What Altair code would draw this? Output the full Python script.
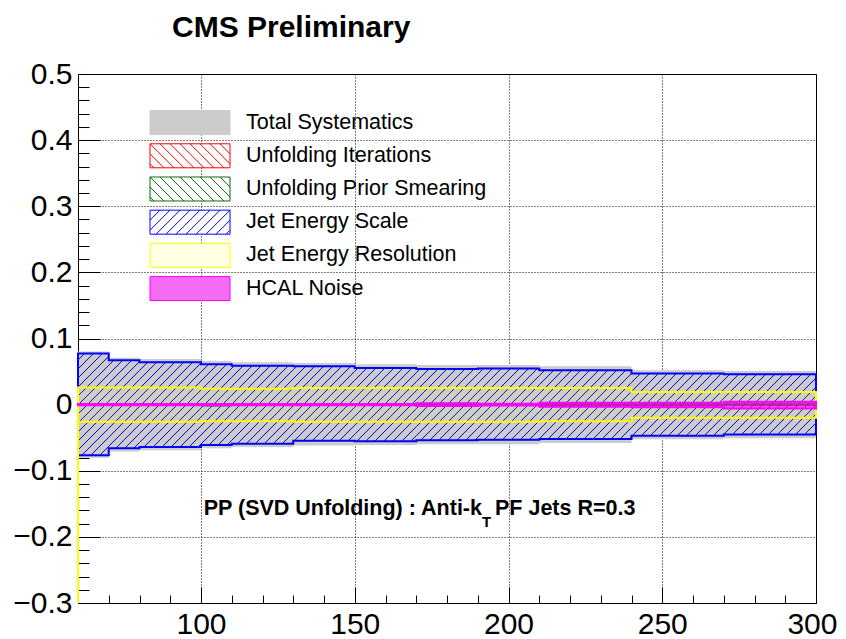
import math
import altair as alt
import pandas as pd
import numpy as np

# ---------------- data ----------------
bin_edges = [60, 70, 80, 100, 110, 130, 150, 170, 190, 210, 240, 270, 300]

total_up   = [0.0805, 0.071, 0.069, 0.066, 0.064, 0.063, 0.061, 0.060, 0.060, 0.058, 0.052, 0.051]
total_down = [-0.0805, -0.071, -0.069, -0.066, -0.064, -0.062, -0.061, -0.060, -0.060, -0.058, -0.0525, -0.051]

iter_up    = [0.0005, 0.0005, 0.0005, 0.0005, 0.0005, 0.0005, 0.0005, 0.0005, 0.0005, 0.001, 0.001, 0.001]
iter_down  = [-0.0005, -0.0005, -0.0005, -0.0005, -0.0005, -0.0005, -0.0005, -0.0005, -0.0005, -0.001, -0.001, -0.001]

prior_up   = [0.0005, 0.0005, 0.0005, 0.0005, 0.0005, 0.0005, 0.0005, 0.0005, 0.0005, 0.0005, 0.001, 0.001]
prior_down = [-0.0005, -0.0005, -0.0005, -0.002, -0.0005, -0.0005, -0.0005, -0.0005, -0.0005, -0.0005, -0.001, -0.001]

jes_up     = [0.0775, 0.067, 0.064, 0.061, 0.0587, 0.058, 0.0555, 0.054, 0.0545, 0.052, 0.047, 0.046]
jes_down   = [-0.0765, -0.066, -0.064, -0.061, -0.059, -0.0547, -0.0555, -0.0537, -0.053, -0.052, -0.047, -0.045]

jer_up     = [0.026, 0.026, 0.026, 0.024, 0.024, 0.025, 0.025, 0.025, 0.025, 0.025, 0.019, 0.019]
jer_down   = [-0.026, -0.026, -0.026, -0.025, -0.025, -0.026, -0.026, -0.026, -0.026, -0.025, -0.020, -0.020]

hcal_up    = [0.001, 0.001, 0.001, 0.001, 0.001, 0.001, 0.001, 0.002, 0.0015, 0.0027, 0.003, 0.0045]
hcal_down  = [-0.001, -0.001, -0.001, -0.001, -0.001, -0.001, -0.001, -0.002, -0.0015, -0.0033, -0.004, -0.006]

legend_labels = ["Total Systematics", "Unfolding Iterations", "Unfolding Prior Smearing",
                 "Jet Energy Scale", "Jet Energy Resolution", "HCAL Noise"]
legend_fills   = ["#cccccc", "#ffffff", "#ffffff", "#ffffff", "#ffffe4", "#f46cf4"]
legend_strokes = ["#cccccc", "#ff0000", "#0a6e0a", "#0000ff", "#ffff00", "#ff00ff"]
legend_hatch   = ["", "\\", "\\", "/", "", ""]

x_label_values = [100, 150, 200, 250, 300]
x_major_ticks = [100, 150, 200, 250]
x_minor_ticks = [70, 80, 90, 110, 120, 130, 140, 160, 170, 180, 190, 210, 220, 230, 240, 260, 270, 280, 290]
y_label_values = [-0.3, -0.2, -0.1, 0.0, 0.1, 0.2, 0.3, 0.4, 0.5]
y_major_ticks = [-0.2, -0.1, 0.0, 0.1, 0.2, 0.3, 0.4]
y_minor_ticks = [round(v, 2) for v in np.arange(-0.28, 0.5, 0.02)]

title_text = "CMS Preliminary"
note_main = "PP (SVD Unfolding) : Anti-k"
note_sub = "T"
note_rest = "PF Jets R=0.3"

# ---------------- layout ----------------
W, H = 738, 529
X_DOM = [60, 300]
Y_DOM = [-0.3, 0.5]
FONT = "Liberation Sans"
xs = alt.Scale(domain=X_DOM, nice=False, zero=False)
ys = alt.Scale(domain=Y_DOM, nice=False, zero=False)
kx = W / (X_DOM[1] - X_DOM[0])
ky = H / (Y_DOM[1] - Y_DOM[0])


def step_frame(up, dn):
    return pd.DataFrame({"x": bin_edges, "up": list(up) + [up[-1]], "dn": list(dn) + [dn[-1]]})


def hatch_segments(edges, lo, hi, spacing):
    """45-degree '/' hatch lines clipped to each bin's band (pixel geometry)."""
    rows = []
    for i in range(len(lo)):
        X0 = (edges[i] - X_DOM[0]) * kx
        X1 = (edges[i + 1] - X_DOM[0]) * kx
        Y0 = (lo[i] - Y_DOM[0]) * ky
        Y1 = (hi[i] - Y_DOM[0]) * ky
        k0 = math.ceil((Y0 - X1) / spacing)
        k1 = math.floor((Y1 - X0) / spacing)
        for k in range(k0, k1 + 1):
            c = k * spacing
            a = max(X0, Y0 - c)
            b = min(X1, Y1 - c)
            if b - a > 0.3:
                rows.append({"x": X_DOM[0] + a / kx, "y": Y_DOM[0] + (a + c) / ky,
                             "x2": X_DOM[0] + b / kx, "y2": Y_DOM[0] + (b + c) / ky})
    return pd.DataFrame(rows)


def legend_path(kind, hw=1.0, hh=0.3, step=0.25):
    p = f"M{-hw},{-hh}H{hw}V{hh}H{-hw}Z"
    if not kind:
        return p
    segs = []
    c = -hw - hh - 1.0
    while c < hw + hh + 1.0:
        if kind == "\\":
            a, b = max(-hw, -hh - c), min(hw, hh - c)
            if b - a > 0.01:
                segs.append(f"M{a:.3f},{a + c:.3f}L{b:.3f},{b + c:.3f}")
        else:
            a, b = max(-hw, c - hh), min(hw, c + hh)
            if b - a > 0.01:
                segs.append(f"M{a:.3f},{c - a:.3f}L{b:.3f},{c - b:.3f}")
        c += step
    return p + "".join(segs)


legend_paths = [legend_path(k) for k in legend_hatch]

# ---------------- axes ----------------
label_expr = "abs(datum.value) < 1e-9 ? '0' : replace(format(datum.value, '.1f'), '-', '\u2212')"

x_main_axis = alt.Axis(orient="bottom", values=x_label_values, title="", labelFontSize=30,
                       labelFont=FONT, labelColor="black", labelPadding=6, ticks=False,
                       domain=True, domainColor="black", domainWidth=1, labelFlush=True,
                       labelFlushOffset=21,
                       labelOverlap=False, grid=True, gridColor="black", gridDash=[1, 2],
                       gridWidth=1, gridOpacity=1)
y_main_axis = alt.Axis(orient="left", values=y_label_values, title="", labelFontSize=30,
                       labelFont=FONT, labelColor="black", labelPadding=6, ticks=False,
                       domain=True, domainColor="black", domainWidth=1, labelFlush=False,
                       labelOverlap=False, labelExpr=label_expr, grid=True, gridColor="black",
                       gridDash=[1, 2], gridWidth=1, gridOpacity=1)
x_major_axis = alt.Axis(orient="bottom", values=x_major_ticks, title="", labels=False, domain=False,
                        grid=False, ticks=True, tickSize=16, offset=-16, tickColor="black", tickWidth=1)
y_major_axis = alt.Axis(orient="left", values=y_major_ticks, title="", labels=False, domain=False,
                        grid=False, ticks=True, tickSize=22, offset=-22, tickColor="black", tickWidth=1)
x_minor_axis = alt.Axis(orient="bottom", values=x_minor_ticks, title="", labels=False, domain=False,
                        grid=False, ticks=True, tickSize=8, offset=-8, tickColor="black", tickWidth=1)
y_minor_axis = alt.Axis(orient="left", values=y_minor_ticks, title="", labels=False, domain=False,
                        grid=False, ticks=True, tickSize=11, offset=-11, tickColor="black", tickWidth=1)


def band(up, dn, x_axis=None, y_axis=None, **mark):
    return alt.Chart(step_frame(up, dn)).mark_area(interpolate="step-after", **mark).encode(
        x=alt.X("x:Q", scale=xs, axis=x_axis),
        y=alt.Y("up:Q", scale=ys, axis=y_axis),
        y2="dn:Q",
    )


total_layer = band(total_up, total_down, x_main_axis, y_main_axis, fill="#cccccc", fillOpacity=1)
iter_layer = band(iter_up, iter_down, fill="#ff0000", fillOpacity=0.3, stroke="#ff0000", strokeWidth=1)
prior_layer = band(prior_up, prior_down, fill="#0a6e0a", fillOpacity=0.3, stroke="#0a6e0a", strokeWidth=1)

hatch_layer = alt.Chart(hatch_segments(bin_edges, jes_down, jes_up, 9.0)).mark_rule(
    color="#0000ff", strokeWidth=1).encode(
    x=alt.X("x:Q", scale=xs, axis=x_minor_axis),
    y=alt.Y("y:Q", scale=ys, axis=y_minor_axis),
    x2="x2:Q", y2="y2:Q",
)
jes_outline = band(jes_up, jes_down, x_major_axis, y_major_axis,
                   fill="#0000ff", fillOpacity=0, stroke="#0000ff", strokeWidth=2)
jer_layer = band(jer_up, jer_down, fill="#ffff00", fillOpacity=0.07, stroke="#ffff00", strokeWidth=2)
jer_edge = alt.Chart(pd.DataFrame({"x": [bin_edges[0]], "y": [Y_DOM[0]], "y2": [jer_up[0]]})).mark_rule(
    color="#ffff00", strokeWidth=2).encode(
    x=alt.X("x:Q", scale=xs, axis=None), y=alt.Y("y:Q", scale=ys, axis=None), y2="y2:Q")
hcal_layer = band(hcal_up, hcal_down, fill="#ff00ff", fillOpacity=0.6, stroke="#ff00ff", strokeWidth=2)

# legend (ROOT-style box inside the frame)
LEG_Y0, LEG_DY = 0.4265, 0.0502
leg_df = pd.DataFrame({"label": legend_labels, "row": list(range(len(legend_labels)))})
leg_df["ly"] = LEG_Y0 - leg_df["row"] * LEG_DY

leg_symbols = alt.Chart(leg_df).mark_point(size=6400, filled=True, opacity=1, strokeWidth=1).encode(
    x=alt.value(112),
    y=alt.Y("ly:Q", scale=ys, axis=None),
    shape=alt.Shape("label:N", scale=alt.Scale(domain=legend_labels, range=legend_paths), legend=None),
    fill=alt.Fill("label:N", scale=alt.Scale(domain=legend_labels, range=legend_fills), legend=None),
    stroke=alt.Stroke("label:N", scale=alt.Scale(domain=legend_labels, range=legend_strokes), legend=None),
)
leg_text = alt.Chart(leg_df).mark_text(align="left", baseline="middle", fontSize=21.5, font=FONT,
                                       color="black").encode(
    x=alt.value(168), y=alt.Y("ly:Q", scale=ys, axis=None), text="label:N")

title_layer = alt.Chart(pd.DataFrame({"t": [title_text]})).mark_text(
    align="left", baseline="alphabetic", fontSize=30, fontWeight="bold", font=FONT, color="black").encode(
    x=alt.value(94), y=alt.value(-37), text="t:N")

note1 = alt.Chart(pd.DataFrame({"t": [note_main]})).mark_text(
    align="right", baseline="alphabetic", fontSize=21.5, fontWeight="bold", font=FONT, color="black").encode(
    x=alt.value(404), y=alt.value(441), text="t:N")
note2 = alt.Chart(pd.DataFrame({"t": [note_sub]})).mark_text(
    align="left", baseline="alphabetic", fontSize=15, fontWeight="bold", font=FONT, color="black").encode(
    x=alt.value(404), y=alt.value(453), text="t:N")
note3 = alt.Chart(pd.DataFrame({"t": [note_rest]})).mark_text(
    align="left", baseline="alphabetic", fontSize=21.5, fontWeight="bold", font=FONT, color="black").encode(
    x=alt.value(417), y=alt.value(441), text="t:N")

chart = alt.layer(
    total_layer, iter_layer, prior_layer, hatch_layer, jes_outline, jer_layer, jer_edge, hcal_layer,
    leg_symbols, leg_text, title_layer, note1, note2, note3,
).resolve_axis(x="independent", y="independent").properties(
    width=W, height=H,
    autosize=alt.AutoSizeParams(type="none"),
    padding={"left": 70, "top": 66, "right": 22, "bottom": 36},
    background="white",
).configure_view(stroke="black", strokeWidth=1)

chart.save("out.html", embed_options={"renderer": "svg", "actions": False})
